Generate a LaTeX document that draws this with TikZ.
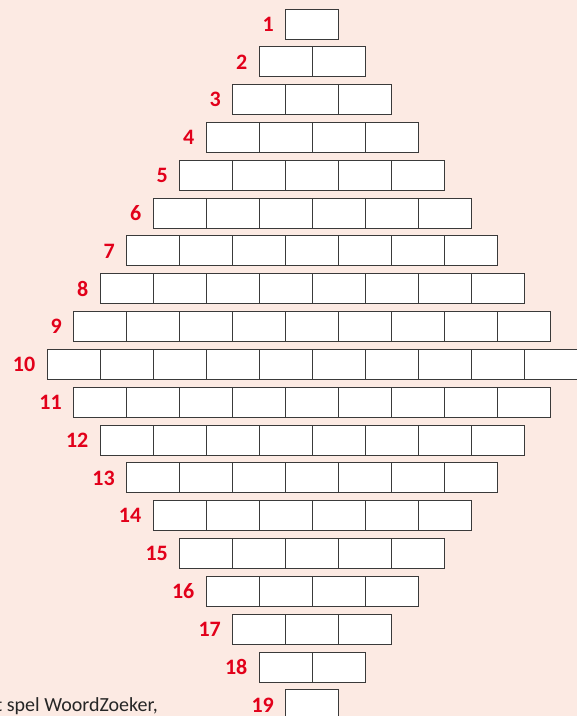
\documentclass[tikz,border=0pt]{standalone}
\usepackage{fontspec}
\setmainfont{Carlito}
\usetikzlibrary{positioning}

\definecolor{bgpink}{HTML}{FCEAE3}
\definecolor{numred}{HTML}{E2001A}
\definecolor{boxline}{HTML}{3A3A3A}

\tikzset{
  cell/.style={draw=boxline, line width=1pt, fill=white,
    minimum width=53pt, minimum height=30pt, inner sep=0pt},
  rownum/.style={text=numred, font=\fontsize{22}{26}\selectfont\bfseries,
    inner sep=0pt, anchor=east},
}

\begin{document}
\begin{tikzpicture}[x=1pt,y=-1pt]

% Achtergrond
\fill[bgpink] (0,0) rectangle (577,716);
\clip (0,0) rectangle (577,716);

% Rijen met vakjes
\foreach \r in {1,...,19}{
  \pgfmathtruncatemacro{\n}{\r<=10 ? \r : 20-\r}
  \pgfmathsetmacro{\yc}{24+(\r-1)*37.83}
  \foreach \k in {1,...,\n}{
    \node[cell] (c-\r-\k) at ({312-\n*26.5+(\k-0.5)*53},\yc) {};
  }
  % Nummer
  \node[rownum, left=11pt of c-\r-1] (lbl-\r) {\r};
}

% Tekst onderaan
\node[anchor=base west, inner sep=0pt, font=\fontsize{20}{24}\selectfont,
  text=black!85] (caption) at (-4.5,711) {t spel WoordZoeker,};

\end{tikzpicture}
\end{document}
